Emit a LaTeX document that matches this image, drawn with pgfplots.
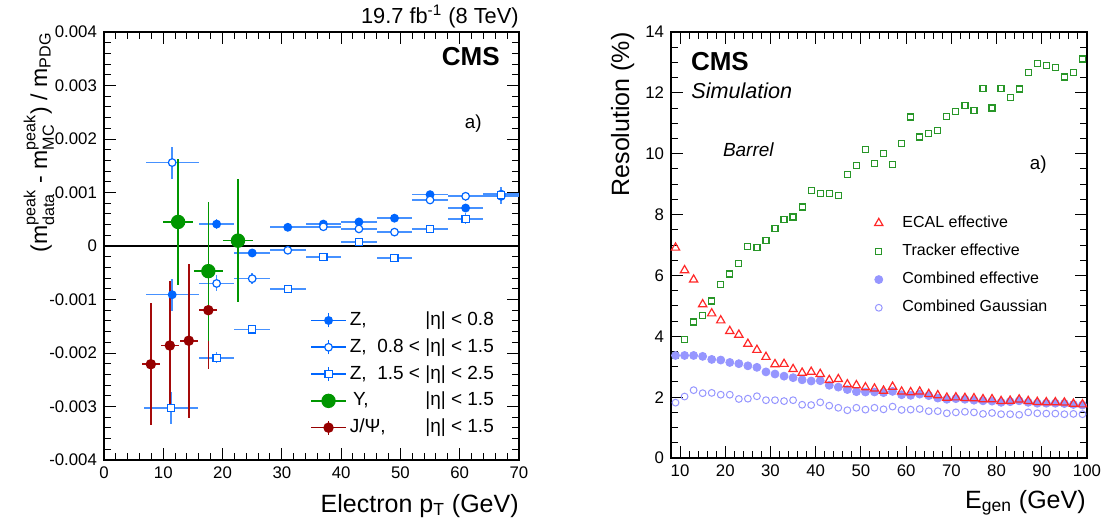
\documentclass[border=0pt]{standalone}
\usepackage{fontspec}
\setmainfont{Liberation Sans}
\usepackage{amsmath}
\usepackage{pgfplots}
\usepackage{pgfplotstable}
\pgfplotsset{compat=1.18}

\definecolor{zblue}{RGB}{0,102,255}
\definecolor{zbar}{RGB}{70,145,255}
\definecolor{ygreen}{RGB}{0,150,0}
\definecolor{ybar}{RGB}{70,195,70}
\definecolor{jred}{RGB}{150,0,0}
\definecolor{jbar}{RGB}{165,10,10}
\definecolor{ecal}{RGB}{255,40,40}
\definecolor{trk}{RGB}{40,150,40}
\definecolor{comb}{RGB}{150,150,255}

\pgfplotstableread{
x ex y ey
11.5 4.5 -0.00091 0.0003
19 3 0.00041 0.0001
25 3 -0.00013 0.00008
31 3 0.00035 0.00006
37 3 0.00041 0.00006
43 3 0.00045 0.00006
49 3 0.00052 0.00006
55 3 0.00096 0.00007
61 3 0.00071 0.00008
67 3 0.00093 0.00015
}\zA
\pgfplotstableread{
x ex y ey
11.5 4.5 0.00156 0.0003
19 3 -0.0007 0.00015
25 3 -0.00061 0.0001
31 3 -0.00008 0.00006
37 3 0.00036 0.00006
43 3 0.00032 0.00006
49 3 0.00026 0.00006
55 3 0.00086 0.00007
61 3 0.00093 0.00008
67 3 0.00097 0.0001
}\zB
\pgfplotstableread{
x ex y ey
11.3 4.5 -0.00303 0.0003
19 3 -0.00209 0.0001
25 3 -0.00156 0.00008
31 3 -0.0008 0.00006
37 3 -0.0002 0.00006
43 3 0.00008 0.00006
49 3 -0.00022 0.00006
55 3 0.00032 0.00007
61 3 0.00051 0.0001
67 3 0.00095 0.00015
}\zC
\pgfplotstableread{
x ex y ey
12.5 2.5 0.00045 0.00117
17.6 2.5 -0.00047 0.0013
22.6 2.5 0.00010 0.00115
}\ups
\pgfplotstableread{
x ex y ey
7.9 1.5 -0.00221 0.00114
11.1 1.5 -0.00186 0.00121
14.3 1.5 -0.00177 0.00144
17.6 1.5 -0.00120 0.0011
}\jpsi
\pgfplotstableread{
x ecal trk comb gaus
9 6.91 3.37 3.37 1.82
11 6.17 3.90 3.37 2.02
13 5.86 4.47 3.37 2.23
15 5.05 4.68 3.34 2.13
17 4.75 5.16 3.24 2.14
19 4.52 5.69 3.22 2.08
21 4.17 6.05 3.14 2.08
23 4.05 6.38 3.10 1.94
25 3.75 6.94 3.03 1.95
27 3.55 6.91 2.98 2.03
29 3.32 7.15 2.83 1.90
31 3.08 7.54 2.76 1.90
33 3.09 7.83 2.69 1.87
35 2.92 7.92 2.64 1.90
37 2.80 8.25 2.57 1.75
39 2.83 8.78 2.53 1.74
41 2.76 8.68 2.54 1.83
43 2.56 8.70 2.39 1.72
45 2.59 8.62 2.33 1.65
47 2.42 9.33 2.25 1.57
49 2.39 9.62 2.18 1.65
51 2.32 10.13 2.17 1.59
53 2.28 9.69 2.17 1.65
55 2.21 10.01 2.15 1.60
57 2.34 9.65 2.19 1.69
59 2.18 10.34 2.08 1.58
61 2.16 11.21 2.06 1.59
63 2.18 10.55 2.10 1.61
65 2.10 10.67 2.05 1.54
67 2.06 10.76 1.97 1.54
69 1.98 11.23 1.93 1.47
71 1.99 11.38 1.95 1.50
73 1.97 11.59 1.93 1.52
75 1.96 11.41 1.90 1.50
77 1.93 12.15 1.88 1.45
79 1.93 11.50 1.87 1.48
81 1.87 12.15 1.83 1.44
83 1.88 11.86 1.85 1.44
85 1.92 12.13 1.88 1.42
87 1.87 12.66 1.83 1.50
89 1.84 12.96 1.80 1.47
91 1.83 12.90 1.80 1.46
93 1.83 12.84 1.80 1.46
95 1.82 12.52 1.79 1.44
97 1.78 12.68 1.76 1.45
99 1.76 13.11 1.74 1.44
}\res

\pgfplotsset{rootstyle/.style={
  scale only axis, anchor=south west,
  tick align=inside, major tick length=6pt, minor tick length=3.5pt,
  tick style={black, line width=0.5pt},
  axis line style={line width=0.8pt},
  ticklabel style={font=\fontsize{8.4}{10}\selectfont},
  /pgf/number format/assume math mode=true,
}}

\begin{document}
\begin{tikzpicture}
\useasboundingbox (0pt,0pt) rectangle (553.5pt,263.5pt);

% ---------------- left panel ----------------
\begin{axis}[rootstyle, at={(52pt,33.5pt)}, width=207.5pt, height=214pt,
  xmin=0, xmax=70, ymin=-0.004, ymax=0.004,
  xtick={0,10,...,70}, minor x tick num=4,
  ytick={-0.004,-0.003,-0.002,-0.001,0,0.001,0.002,0.003,0.004},
  yticklabels={-0.004,-0.003,-0.002,-0.001,0,0.001,0.002,0.003,0.004},
  minor y tick num=4, scaled y ticks=false,
  legend style={draw=none, fill=none, at={(rel axis cs:0.496,0.355)}, anchor=north west,
    inner sep=0pt, font=\fontsize{9.5}{11}\selectfont, row sep=1.4pt,
    nodes={inner sep=1.5pt, text height=7pt, text depth=2pt}},
  legend cell align=left,
  legend image code/.code={
    \draw[#1] (0pt,0pt) -- (17.5pt,0pt) (8.75pt,-3.5pt) -- (8.75pt,3.5pt);
    \draw[#1] plot coordinates {(8.75pt,0pt)};},
]
\addplot[black, line width=0.6pt, forget plot] coordinates {(0,0) (70,0)};

\addplot[only marks, mark=*, color=zblue, mark size=1.8pt, line width=0.8pt,
  error bars/.cd, x dir=both, x explicit, y dir=both, y explicit,
  error bar style={zbar, line width=0.8pt}, error mark=none]
  table[x=x, y=y, x error=ex, y error=ey] {\zA};
\addlegendentry{\makebox[72pt][l]{Z,\hfill |η| < 0.8}}

\addplot[only marks, mark=*, color=zblue, mark options={fill=white, line width=0.6pt}, mark size=1.9pt, line width=0.8pt,
  error bars/.cd, x dir=both, x explicit, y dir=both, y explicit,
  error bar style={zbar, line width=0.8pt}, error mark=none]
  table[x=x, y=y, x error=ex, y error=ey] {\zB};
\addlegendentry{\makebox[72pt][l]{Z,\hfill 0.8 < |η| < 1.5}}

\addplot[only marks, mark=square*, color=zblue, mark options={fill=white, line width=0.6pt}, mark size=1.8pt, line width=0.8pt,
  error bars/.cd, x dir=both, x explicit, y dir=both, y explicit,
  error bar style={zbar, line width=0.8pt}, error mark=none]
  table[x=x, y=y, x error=ex, y error=ey] {\zC};
\addlegendentry{\makebox[72pt][l]{Z,\hfill 1.5 < |η| < 2.5}}

\addplot[forget plot, only marks, mark=*, color=jred, mark size=2.2pt, line width=0.8pt,
  error bars/.cd, x dir=both, x explicit, y dir=both, y explicit,
  error bar style={jbar, line width=0.8pt}, error mark=none]
  table[x=x, y=y, x error=ex, y error=ey] {\jpsi};

\addplot[only marks, mark=*, color=ygreen, mark size=3.2pt, line width=0.8pt,
  error bars/.cd, x dir=both, x explicit, y dir=both, y explicit,
  error bar style={ybar, line width=0.8pt}, error mark=none]
  table[x=x, y=y, x error=ex, y error=ey] {\ups};
\addlegendentry{\makebox[72pt][l]{\,Υ,\hfill |η| < 1.5}}

\addlegendimage{only marks, mark=*, color=jred, mark size=2.2pt, line width=0.8pt}
\addlegendentry{\makebox[72pt][l]{J/Ψ,\hfill |η| < 1.5}}
\end{axis}

% ---------------- right panel ----------------
\begin{axis}[rootstyle, at={(335.5pt,34.5pt)}, width=208pt, height=213pt,
  xmin=8, xmax=100, ymin=0, ymax=14,
  xtick={10,20,...,100}, minor x tick num=4,
  ytick={0,2,...,14}, minor y tick num=3,
  legend style={draw=none, fill=none, at={(rel axis cs:0.449,0.578)}, anchor=north west,
    inner sep=0pt, font=\fontsize{8}{10}\selectfont, row sep=3.1pt,
    nodes={inner sep=1.5pt, text height=6pt, text depth=2pt}},
  legend cell align=left,
  legend image code/.code={
    \path (0pt,0pt) (20pt,0pt);
    \draw[#1] plot coordinates {(10pt,0pt)};},
]
\addplot[only marks, mark=square, mark size=1.5pt, color=trk, line width=0.6pt, forget plot]
  table[x=x, y=trk] {\res};
\addplot[only marks, mark=*, mark size=2pt, color=comb, forget plot]
  table[x=x, y=comb] {\res};
\addplot[only marks, mark=triangle, mark size=2.4pt, color=ecal, line width=0.6pt, forget plot]
  table[x=x, y=ecal] {\res};
\addplot[only marks, mark=o, mark size=1.7pt, color=comb, line width=0.5pt, forget plot]
  table[x=x, y=gaus] {\res};

\addlegendimage{only marks, mark=triangle, mark size=2.4pt, color=ecal, line width=0.6pt}
\addlegendentry{ECAL effective}
\addlegendimage{only marks, mark=square, mark size=1.5pt, color=trk, line width=0.6pt}
\addlegendentry{Tracker effective}
\addlegendimage{only marks, mark=*, mark size=2pt, color=comb}
\addlegendentry{Combined effective}
\addlegendimage{only marks, mark=o, mark size=1.7pt, color=comb, line width=0.5pt}
\addlegendentry{Combined Gaussian}
\end{axis}

% ---------------- texts ----------------
\node[anchor=base east, inner sep=0pt, font=\fontsize{10.9}{12}\selectfont] at (259.5pt,252pt) {19.7 fb\textsuperscript{-1} (8 TeV)};
\node[anchor=base east, inner sep=0pt, font=\fontsize{13}{14}\selectfont\bfseries] at (250pt,231pt) {CMS};
\node[anchor=base east, inner sep=0pt, font=\fontsize{9.4}{11}\selectfont] at (241pt,199.5pt) {a)};
\node[anchor=base east, inner sep=0pt, font=\fontsize{12.5}{14}\selectfont] at (259.5pt,7.5pt) {Electron p$_{\text{T}}$ (GeV)};
\node[anchor=base east, inner sep=0pt, rotate=90, font=\fontsize{11.5}{13}\selectfont] at (23.5pt,247.5pt)
  {(m$^{\text{peak}}_{\text{data}}$ - m$^{\text{peak}}_{\text{MC}}$) / m$_{\text{PDG}}$};

\node[anchor=base west, inner sep=0pt, font=\fontsize{13}{14}\selectfont\bfseries] at (345.3pt,228.5pt) {CMS};
\node[anchor=base west, inner sep=0pt, font=\fontsize{10.8}{12}\selectfont\itshape] at (345.5pt,214.2pt) {Simulation};
\node[anchor=base west, inner sep=0pt, font=\fontsize{9.5}{11}\selectfont\itshape] at (361.3pt,185.2pt) {Barrel};
\node[anchor=base east, inner sep=0pt, font=\fontsize{9.4}{11}\selectfont] at (523.5pt,179pt) {a)};
\node[anchor=base east, inner sep=0pt, font=\fontsize{12.5}{14}\selectfont] at (543pt,9.5pt) {E$_{\text{gen}}$ (GeV)};
\node[anchor=base east, inner sep=0pt, rotate=90, font=\fontsize{12.5}{14}\selectfont] at (314.5pt,247.5pt) {Resolution (\%)};
\end{tikzpicture}
\end{document}
